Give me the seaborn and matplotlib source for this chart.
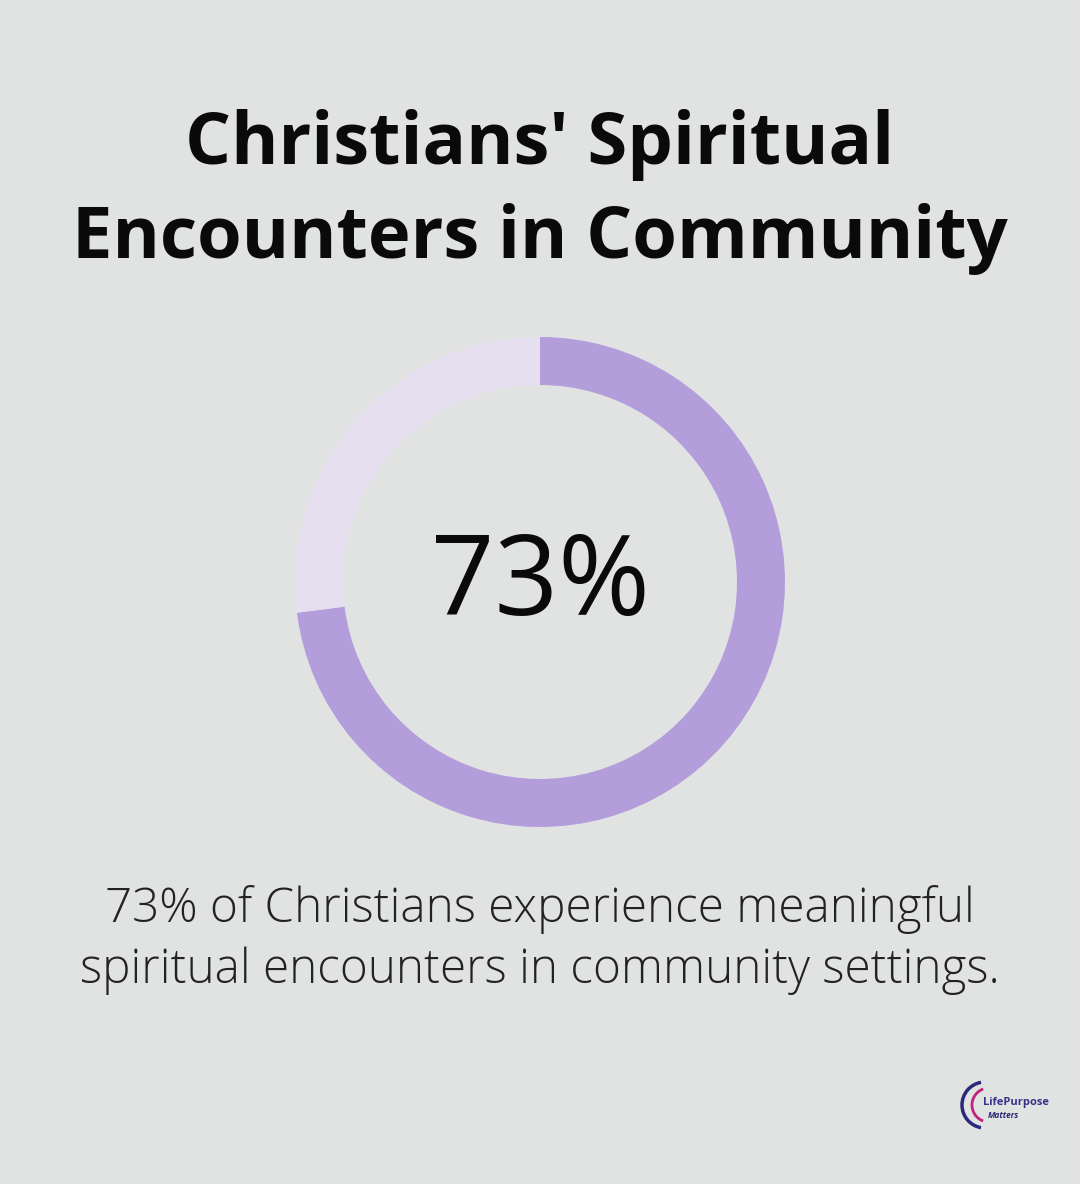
import matplotlib.pyplot as plt
import seaborn as sns
from matplotlib.patches import Arc

# 数据
labels = ['In community', 'Other']
values = [73, 27]
colors = ['#b39ddb', '#e6dff0']
title_text = "Christians' Spiritual\nEncounters in Community"
center_text = '73%'
caption_text = ('73% of Christians experience meaningful\n'
                'spiritual encounters in community settings.')

W, H = 1080, 1184
bg = '#e0e3e1'

sns.set_theme(style='white')
plt.rcParams['font.family'] = ['Open Sans', 'DejaVu Sans']

fig = plt.figure(figsize=(W / 100, H / 100), dpi=100, facecolor=bg)

# 标题
fig.text(0.5, 1 - 192 / H, title_text, ha='center', va='center',
         fontsize=52, fontweight='bold', color='#0a0a0a', linespacing=1.4)

# 环形图
cx, cy, r = 540, 582, 245
ax = fig.add_axes([(cx - r) / W, (H - cy - r) / H, 2 * r / W, 2 * r / H])
ax.set_facecolor(bg)
ax.pie(values, colors=colors, startangle=90, counterclock=False, radius=1,
       wedgeprops={'width': 48 / r, 'linewidth': 0})
ax.set_xlim(-1, 1)
ax.set_ylim(-1, 1)
ax.set_aspect('equal')
ax.axis('off')
ax.text(0, -0.015, center_text, ha='center', va='center', fontsize=80,
        color='#0a0a0a')

# 说明文字
fig.text(0.5, 1 - 940 / H, caption_text, ha='center', va='center',
         fontsize=34.3, fontweight='light', color='#222222', linespacing=1.33)

# 右下角标志
lx, ly = 985, 1105
lax = fig.add_axes([0, 0, 1, 1], facecolor='none')
lax.set_xlim(0, W)
lax.set_ylim(H, 0)
lax.axis('off')
lax.add_patch(Arc((lx, ly), 46, 46, theta1=100, theta2=260, color='#2b2a7a', lw=2.5))
lax.add_patch(Arc((lx + 4, ly), 34, 34, theta1=110, theta2=250, color='#c0237a', lw=2))
lax.text(lx - 2, ly - 2, 'LifePurpose', fontsize=8, fontweight='bold',
         color='#3b2f8a', va='center', ha='left')
lax.text(lx + 3, ly + 10, 'Matters', fontsize=6, fontweight='bold',
         style='italic', color='#2b2a7a', va='center', ha='left')

fig.savefig('out.png', dpi=100, facecolor=bg)
